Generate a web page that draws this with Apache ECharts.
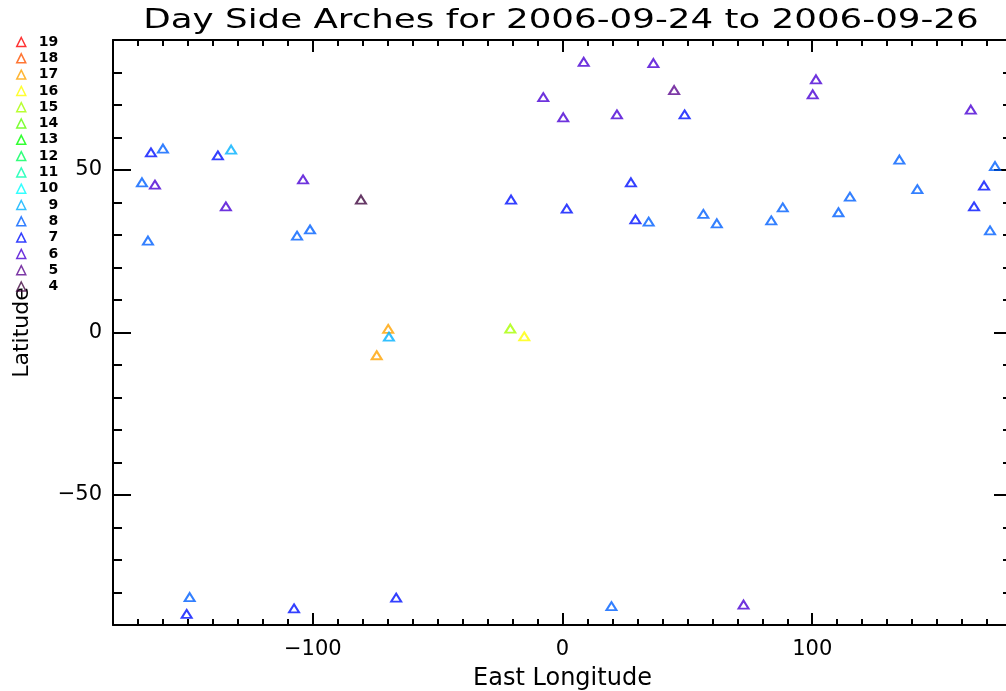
<!DOCTYPE html>
<html>
<head>
<meta charset="utf-8">
<title>Day Side Arches</title>
<script src="https://cdn.jsdelivr.net/npm/echarts@6.0.0/dist/echarts.min.js"></script>
<style>
    html, body { margin: 0; padding: 0; background: #fff; }
    #chart { width: 1006px; height: 691px; }
</style>
</head>
<body>
<div id="chart"></div>
<script>
// legend levels, top to bottom, and their colours
var levels = ['19', '18', '17', '16', '15', '14', '13', '12', '11', '10', '9', '8', '7', '6', '5', '4'];
var levelColors = ['#ff0000', '#ff5400', '#ffa200', '#ffff00', '#a8ff00', '#5cff00', '#00ff00', '#00ff5c',
    '#00ffae', '#00ffff', '#00b0ff', '#0060ff', '#0010ff', '#4a00d4', '#5c0890', '#400840'];

// points per level: [east longitude, latitude]
var level4 = [[-80.7, 40.9]];
var level5 = [[44.7, 74.6]];
var level6 = [
    [-163.2, 45.5], [-134.8, 38.8], [-103.9, 47.1], [8.5, 83.3], [36.4, 82.9], [-7.7, 72.4],
    [0.3, 66.2], [21.8, 67.1], [101.5, 77.9], [100.2, 73.3], [163.5, 68.6], [72.5, -83.7]
];
var level7 = [
    [-164.8, 55.4], [-138.0, 54.5], [-20.6, 40.9], [1.7, 38.1], [27.4, 46.2], [29.2, 34.8],
    [48.9, 67.1], [168.8, 45.2], [164.8, 38.8], [-150.5, -86.6], [-107.5, -84.9], [-66.6, -81.6]
];
var level8 = [
    [-168.4, 46.2], [-160.0, 56.6], [-166.0, 28.3], [-106.3, 29.8], [-101.1, 31.7], [34.5, 34.1],
    [56.4, 36.5], [61.8, 33.6], [83.6, 34.5], [88.2, 38.5], [110.5, 37.0], [115.1, 41.8],
    [134.9, 53.2], [142.1, 44.1], [171.2, 31.4], [173.2, 51.2], [-149.3, -81.4], [19.6, -84.2]
];
var level9 = [[-132.7, 56.3], [-69.5, -1.3]];
var level15 = [[-20.9, 1.2]];
var level16 = [[-15.3, -1.2]];
var level17 = [[-69.8, 1.1], [-74.4, -7.0]];

var pointsByLevel = {
    '4': level4, '5': level5, '6': level6, '7': level7, '8': level8,
    '9': level9, '15': level15, '16': level16, '17': level17
};

var xMajorTicks = [-100, 0, 100];
var yMajorTicks = [-50, 0, 50];

var titleText = 'Day Side Arches for 2006-09-24 to 2006-09-26';

(function () {
    'use strict';

    var font = 'DejaVu Sans';
    var triPath = 'path://M5,0 L10,10 L0,10 Z';

    // label only the major values, with a real minus sign
    function majorLabel(majors) {
        return function (v) {
            if (majors.indexOf(v) < 0) {
                return '';
            }
            return String(v).replace('-', '\u2212');
        };
    }

    // one axis for the short ticks (every 10) and labels, one for the long ticks
    function makeX(position, labelled) {
        var minor = {
            type: 'value', position: position, min: -180, max: 180, interval: 10,
            axisLine: {show: true, onZero: false, lineStyle: {color: '#000', width: 2}},
            axisTick: {show: true, inside: true, length: 6, lineStyle: {color: '#000', width: 2}},
            axisLabel: {show: labelled, margin: 14, color: '#000', fontFamily: font, fontSize: 21,
                hideOverlap: false, formatter: majorLabel(xMajorTicks)},
            splitLine: {show: false}
        };
        var major = {
            type: 'value', position: position, min: -180, max: 180,
            axisLine: {show: false, onZero: false},
            axisTick: {show: true, inside: true, length: 12, customValues: xMajorTicks,
                lineStyle: {color: '#000', width: 2}},
            axisLabel: {show: false},
            splitLine: {show: false}
        };
        if (labelled) {
            minor.name = 'East Longitude';
            minor.nameLocation = 'middle';
            minor.nameGap = 42;
            minor.nameTextStyle = {color: '#000', fontFamily: font, fontSize: 24};
        }
        return [minor, major];
    }

    function makeY(position, labelled) {
        var minor = {
            type: 'value', position: position, min: -90, max: 90, interval: 10,
            axisLine: {show: true, onZero: false, lineStyle: {color: '#000', width: 2}},
            axisTick: {show: true, inside: true, length: 9, lineStyle: {color: '#000', width: 2}},
            axisLabel: {show: labelled, margin: 11, color: '#000', fontFamily: font, fontSize: 21,
                hideOverlap: false, formatter: majorLabel(yMajorTicks)},
            splitLine: {show: false}
        };
        var major = {
            type: 'value', position: position, min: -90, max: 90,
            axisLine: {show: false, onZero: false},
            axisTick: {show: true, inside: true, length: 18, customValues: yMajorTicks,
                lineStyle: {color: '#000', width: 2}},
            axisLabel: {show: false},
            splitLine: {show: false}
        };
        if (labelled) {
            minor.name = 'Latitude';
            minor.nameLocation = 'middle';
            minor.nameGap = 80;
            minor.nameTextStyle = {color: '#000', fontFamily: font, fontSize: 22};
        }
        return [minor, major];
    }

    var series = [];
    var legendData = [];
    for (var i = 0; i < levels.length; i++) {
        var lv = levels[i];
        var col = levelColors[i];
        series.push({
            name: lv,
            type: 'scatter',
            symbol: 'triangle',
            symbolSize: [10, 8],
            itemStyle: {color: 'rgba(0,0,0,0)', borderColor: col, borderWidth: 2},
            data: pointsByLevel[lv] || []
        });
        legendData.push({
            name: lv,
            icon: triPath,
            itemStyle: {color: 'rgba(0,0,0,0)', borderColor: col, borderWidth: 1.5}
        });
    }

    var chart = echarts.init(document.getElementById('chart'));
    var options = {
        animation: false,
        backgroundColor: '#fff',
        grid: {left: 113, right: -6, top: 40, bottom: 66, containLabel: false, outerBoundsMode: 'none'},
        graphic: [{
            type: 'text',
            x: 561, y: 21,
            scaleX: 1.32,
            style: {
                text: titleText,
                fill: '#000',
                fontFamily: font,
                fontSize: 27,
                align: 'center',
                verticalAlign: 'middle'
            }
        }],
        legend: {
            orient: 'vertical',
            left: 16, top: 35,
            padding: 0,
            itemWidth: 10, itemHeight: 9, itemGap: 2.3,
            selectedMode: false,
            data: legendData,
            formatter: function (name) {
                return '{n|' + name + '}';
            },
            textStyle: {
                color: '#000', fontFamily: font, fontSize: 14, fontWeight: 'bold', lineHeight: 10,
                rich: {
                    n: {width: 27, align: 'right', color: '#000', fontFamily: font, fontSize: 14,
                        fontWeight: 'bold', lineHeight: 10}
                }
            }
        },
        xAxis: makeX('bottom', true).concat(makeX('top', false)),
        yAxis: makeY('left', true).concat(makeY('right', false)),
        series: series
    };
    chart.setOption(options);
})();
</script>
</body>
</html>
